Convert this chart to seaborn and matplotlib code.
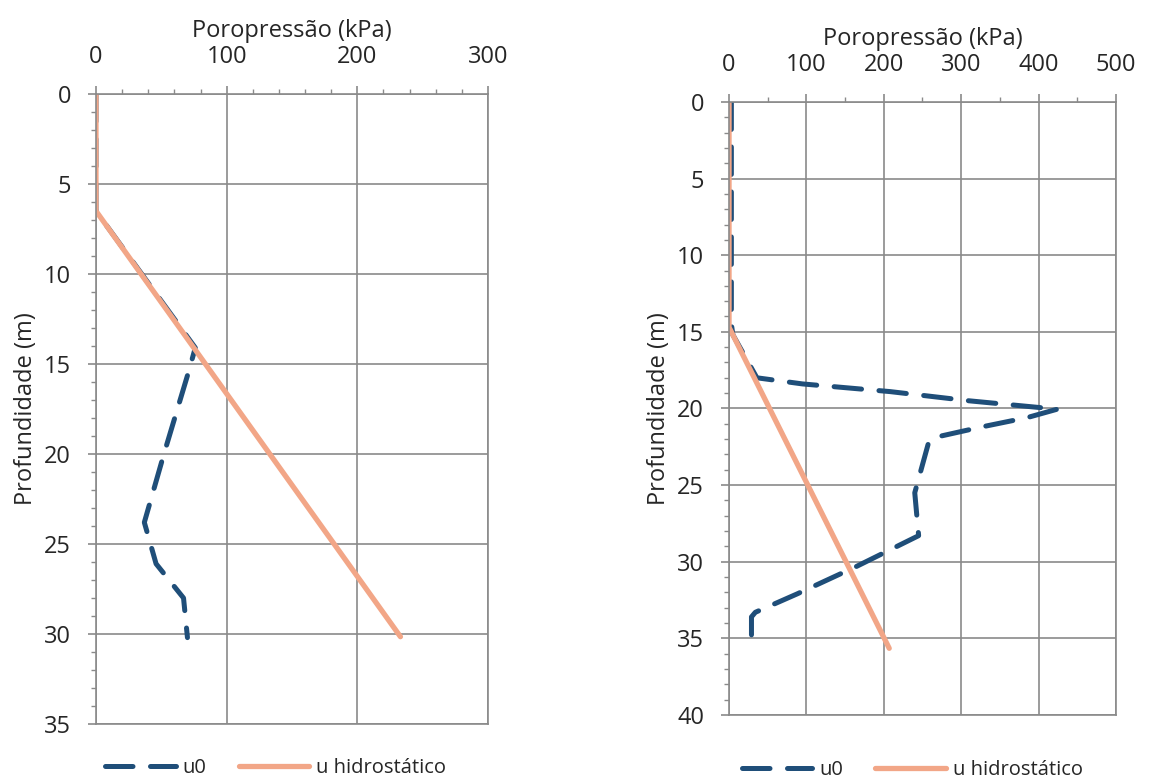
import matplotlib
matplotlib.use("Agg")
import matplotlib.pyplot as plt
import seaborn as sns
import numpy as np
from matplotlib.ticker import MultipleLocator

# left profile
depth_u0_a = [0, 6.5, 14.1, 15.4, 20.0, 23.8, 26.1, 28.0, 30.2]
u0_a = [0, 0, 76, 71, 52, 37, 46, 67, 70]
depth_hid_a = [0, 6.5, 30.15]
hid_a = [0, 0, 233]

# right profile
depth_u0_b = [0, 14.5, 15.2, 18.0, 18.4, 18.9, 19.5, 20.05, 20.6, 21.2, 21.9, 22.2,
              25.5, 28.3, 30.3, 32.1, 33.3, 33.6, 35.8]
u0_b = [3, 3, 5, 36, 95, 208, 310, 424, 385, 327, 265, 258,
        240, 245, 165, 88, 34, 29, 29]
depth_hid_b = [0, 14.7, 35.65]
hid_b = [0, 0, 207]

C_U0 = "#1f4e79"
C_HID = "#f2a687"
GRID = "#8a8a8a"

sns.set_style("white")
plt.rcParams["font.family"] = ["Open Sans", "DejaVu Sans"]

fig = plt.figure(figsize=(11.55, 7.78), dpi=100)
ax1 = fig.add_axes([0.0831, 0.0694, 0.3394, 0.8098])
ax2 = fig.add_axes([0.6312, 0.081, 0.335, 0.788])


def draw(ax, du, u, dh, h, xmax, xminor, ymax, leg_pos):
    sns.lineplot(x=u, y=du, ax=ax, sort=False, estimator=None, color=C_U0,
                 lw=3.6, dashes=False, label="u0")
    ax.lines[-1].set_dashes([5.5, 3.5])
    ax.lines[-1].set_dash_capstyle("round")
    sns.lineplot(x=h, y=dh, ax=ax, sort=False, estimator=None, color=C_HID,
                 lw=3.8, label="u hidrostático")
    ax.set_xlim(0, xmax)
    ax.set_ylim(ymax, 0)
    ax.xaxis.set_major_locator(MultipleLocator(100))
    ax.xaxis.set_minor_locator(MultipleLocator(xminor))
    ax.yaxis.set_major_locator(MultipleLocator(5))
    ax.yaxis.set_minor_locator(MultipleLocator(1))
    ax.xaxis.tick_top()
    ax.xaxis.set_label_position("top")
    ax.tick_params(axis="both", which="both", direction="out", color=GRID,
                   labelsize=17)
    ax.tick_params(axis="both", which="major", length=6, width=1.2, pad=12)
    ax.tick_params(axis="both", which="minor", length=3.4, width=1)
    ax.tick_params(axis="x", which="both", top=True, bottom=False)
    ax.tick_params(axis="y", which="both", left=True)
    ax.grid(True, which="major", color=GRID, lw=1.2)
    for s in ax.spines.values():
        s.set_color(GRID)
        s.set_linewidth(1.2)
    ax.set_xlabel("Poropressão (kPa)", fontsize=17, labelpad=6)
    ax.set_ylabel("Profundidade (m)", fontsize=17, labelpad=4)
    leg = ax.legend(loc="center left", bbox_to_anchor=leg_pos, ncol=2,
                    frameon=False, fontsize=14.5, handlelength=3.5,
                    columnspacing=1.6, handletextpad=0.35, borderaxespad=0)
    leg.get_lines()[0].set_dashes([5.5, 3.5])


draw(ax1, depth_u0_a, u0_a, depth_hid_a, hid_a, 300, 20, 35, (0.003, -0.07))
draw(ax2, depth_u0_b, u0_b, depth_hid_b, hid_b, 500, 50, 40, (0.012, -0.09))

fig.savefig("out.png", dpi=100)
